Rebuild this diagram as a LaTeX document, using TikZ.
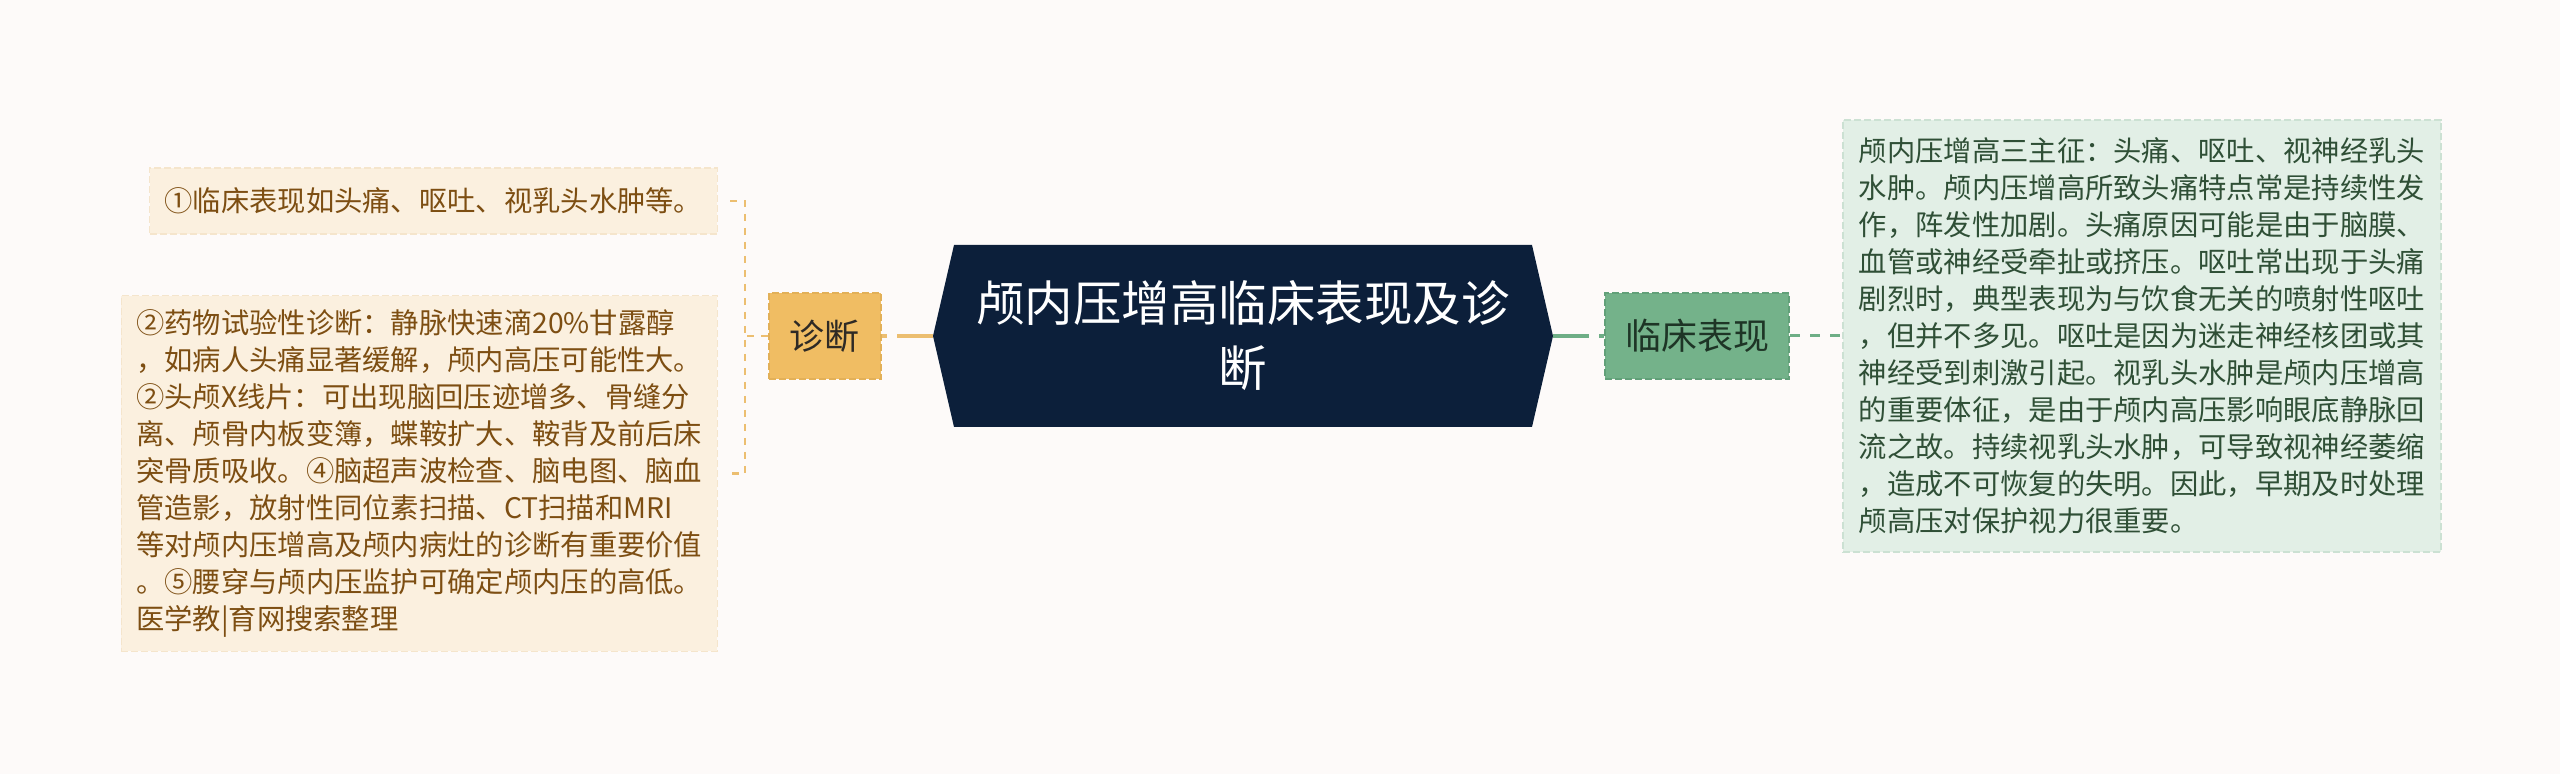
\documentclass[tikz,border=0pt]{standalone}
\usepackage{fontspec}
\setmainfont{Noto Sans CJK SC}
\usepackage{tikz}
\usetikzlibrary{positioning,shapes.symbols}
\usepackage{xcolor}
\definecolor{pageBg}{RGB}{253,250,249}
\definecolor{navyMain}{RGB}{12,31,58}
\definecolor{diagFill}{RGB}{240,189,99}
\definecolor{diagEdge}{RGB}{226,176,88}
\definecolor{diagLine}{RGB}{236,190,112}
\definecolor{diagText}{RGB}{46,42,37}
\definecolor{noteFill}{RGB}{251,240,223}
\definecolor{noteEdge}{RGB}{245,229,204}
\definecolor{noteText}{RGB}{125,78,18}
\definecolor{clinFill}{RGB}{116,178,138}
\definecolor{clinEdge}{RGB}{98,160,121}
\definecolor{clinLine}{RGB}{110,174,134}
\definecolor{clinText}{RGB}{30,53,38}
\definecolor{sympFill}{RGB}{226,239,230}
\definecolor{sympEdge}{RGB}{204,225,211}
\definecolor{sympText}{RGB}{47,79,54}

\begin{document}
\begin{tikzpicture}[x=1pt,y=1pt,
  mainhex/.style={signal, signal to=west and east, signal pointer angle=154,
    fill=navyMain, text=white, minimum width=620pt, minimum height=182pt,
    align=center, inner sep=0pt, font=\fontsize{48.5}{65}\selectfont},
  branchbox/.style={draw, line width=2pt, dash pattern=on 7pt off 3pt,
    minimum height=86pt, inner sep=0pt},
  notebox/.style={fill=noteFill, draw=noteEdge, line width=1.5pt,
    dash pattern=on 7pt off 3pt, text=noteText, align=left,
    inner xsep=15pt, inner ysep=14pt, font=\fontsize{28.3}{37}\selectfont},
  sympbox/.style={fill=sympFill, draw=sympEdge, line width=1.5pt,
    dash pattern=on 7pt off 3pt, text=sympText, align=left,
    inner xsep=16pt, inner ysep=18pt, font=\fontsize{28.3}{37}\selectfont}]
%% page and margins
\fill [pageBg] (0,0) rectangle (2560,774);
\useasboundingbox (0,0) rectangle (2560,774);
%the nodes
\node [mainhex] (icpCenter) at (1243,438) {颅内压增高临床表现及诊\\断};
\node [branchbox, fill=diagFill, draw=diagEdge, text=diagText, minimum width=112pt,
  font=\fontsize{35}{42}\selectfont, left=51pt of icpCenter] (icpDiag) {诊断};
\node [branchbox, fill=clinFill, draw=clinEdge, text=clinText, minimum width=184pt,
  font=\fontsize{36}{42}\selectfont, right=51pt of icpCenter] (icpClin) {临床表现};
\node [sympbox, right=52pt of icpClin] (icpSymp) {颅内压增高三主征：头痛、呕吐、视神经乳头\\
水肿。颅内压增高所致头痛特点常是持续性发\\
作，阵发性加剧。头痛原因可能是由于脑膜、\\
血管或神经受牵扯或挤压。呕吐常出现于头痛\\
剧烈时，典型表现为与饮食无关的喷射性呕吐\\
，但并不多见。呕吐是因为迷走神经核团或其\\
神经受到刺激引起。视乳头水肿是颅内压增高\\
的重要体征，是由于颅内高压影响眼底静脉回\\
流之故。持续视乳头水肿，可导致视神经萎缩\\
，造成不可恢复的失明。因此，早期及时处理\\
颅高压对保护视力很重要。};
\node [notebox, inner ysep=20pt, anchor=east] (icpNoteA) at (718,573) {①临床表现如头痛、呕吐、视乳头水肿等。};
\node [notebox, anchor=east] (icpNoteB) at (718,300.5) {②药物试验性诊断：静脉快速滴20\%甘露醇\\
，如病人头痛显著缓解，颅内高压可能性大。\\
②头颅X线片：可出现脑回压迹增多、骨缝分\\
离、颅骨内板变簿，蝶鞍扩大、鞍背及前后床\\
突骨质吸收。④脑超声波检查、脑电图、脑血\\
管造影，放射性同位素扫描、CT扫描和MRI\\
等对颅内压增高及颅内病灶的诊断有重要价值\\
。⑤腰穿与颅内压监护可确定颅内压的高低。\\
医学教|育网搜索整理};
\coordinate (icpBrk) at (745,438);
%drawings of lines
\draw [diagLine, line width=4.5pt, dash pattern=on 36pt off 10pt] (icpCenter.west) -- (icpDiag.east);
\draw [clinLine, line width=4.5pt, dash pattern=on 36pt off 10pt] (icpCenter.east) -- (icpClin.west);
\draw [clinLine, line width=3pt, dash pattern=on 10pt off 10pt] (icpClin.east) -- (icpSymp.west);

\draw [diagLine, line width=2.5pt, dash pattern=on 7pt off 7pt] (icpDiag.west) -- (icpBrk);
\draw [diagLine, line width=2.5pt, dash pattern=on 7pt off 7pt]
  ([xshift=12pt]icpNoteA.east) -| (icpBrk) |- ([xshift=12pt]icpNoteB.east);
\end{tikzpicture}
\end{document}
